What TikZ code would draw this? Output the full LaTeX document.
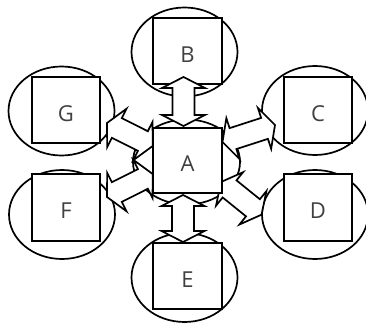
\documentclass[tikz,border=0pt]{standalone}
\usepackage{fontspec}
\setmainfont{Open Sans}
\usetikzlibrary{calc,shapes.geometric}

% double-headed block arrow between two named points
\newcommand\dblarrow[2]{%
  \draw[blockarr] (#1)
    -- ($(#1)!24.15pt!62.9:(#2)$) -- ($(#1)!15.56pt!45:(#2)$)
    -- ($(#2)!15.56pt!-45:(#1)$) -- ($(#2)!24.15pt!-62.9:(#1)$)
    -- (#2)
    -- ($(#2)!24.15pt!62.9:(#1)$) -- ($(#2)!15.56pt!45:(#1)$)
    -- ($(#1)!15.56pt!-45:(#2)$) -- ($(#1)!24.15pt!-62.9:(#2)$)
    -- cycle;}

\begin{document}
\begin{tikzpicture}[x=1pt,y=-1pt,
  oval/.style={draw=black,fill=white,line width=1.7pt,ellipse,
    minimum width=106pt,minimum height=89pt,inner sep=0pt},
  box/.style={draw=black,fill=white,line width=1.7pt,rectangle,
    minimum width=68pt,minimum height=66pt,inner sep=0pt},
  blockarr/.style={draw=black,fill=white,line width=1.7pt,line join=miter},
  lbl/.style={inner sep=0pt,font=\fontsize{22}{24}\selectfont,text=black!75}]
\useasboundingbox (0,0) rectangle (366,323);

% outer ovals
\node[oval] (oB) at (184.5,52) {};
\node[oval] (oG) at (61.5,111) {};
\node[oval] (oF) at (62,214.5) {};
\node[oval] (oC) at (315,110.5) {};
\node[oval] (oD) at (315,214.5) {};
\node[oval] (oE) at (184.5,277.5) {};
\node[oval,minimum width=107pt,minimum height=85pt] (oA) at (186.5,162) {};

% outer boxes
\node[box,minimum width=69pt] (B) at (187.5,51) {};
\node[box] (G) at (66,110) {};
\node[box,minimum height=67pt] (F) at (66,207.5) {};
\node[box] (C) at (318,110) {};
\node[box,minimum height=67pt] (D) at (318,207.5) {};
\node[box,minimum width=69pt] (E) at (187.5,276) {};

% arrow end points
\coordinate (Bo) at (183.5,77);   \coordinate (Bi) at (183.5,126);
\coordinate (Eo) at (183,242);    \coordinate (Ei) at (183,195);
\coordinate (Go) at (107,123);    \coordinate (Gi) at (152.7,146);
\coordinate (Fo) at (107,197);    \coordinate (Fi) at (152.7,174);
\coordinate (Co) at (275,125);    \coordinate (Ci) at (222.5,142);
\coordinate (Do) at (261.5,214.7);\coordinate (Di) at (221,182);

\dblarrow{Bo}{Bi}
\dblarrow{Eo}{Ei}
\dblarrow{Go}{Gi}
\dblarrow{Fo}{Fi}
\dblarrow{Co}{Ci}
\dblarrow{Do}{Di}

% centre box
\node[box,minimum width=69pt,minimum height=65pt] (A) at (187.5,160.5) {};

% labels
\foreach \n in {A,B,C,D,E,F,G}
  \node[lbl] at ([yshift=-3.5pt]\n.center) {\n};
\end{tikzpicture}
\end{document}
